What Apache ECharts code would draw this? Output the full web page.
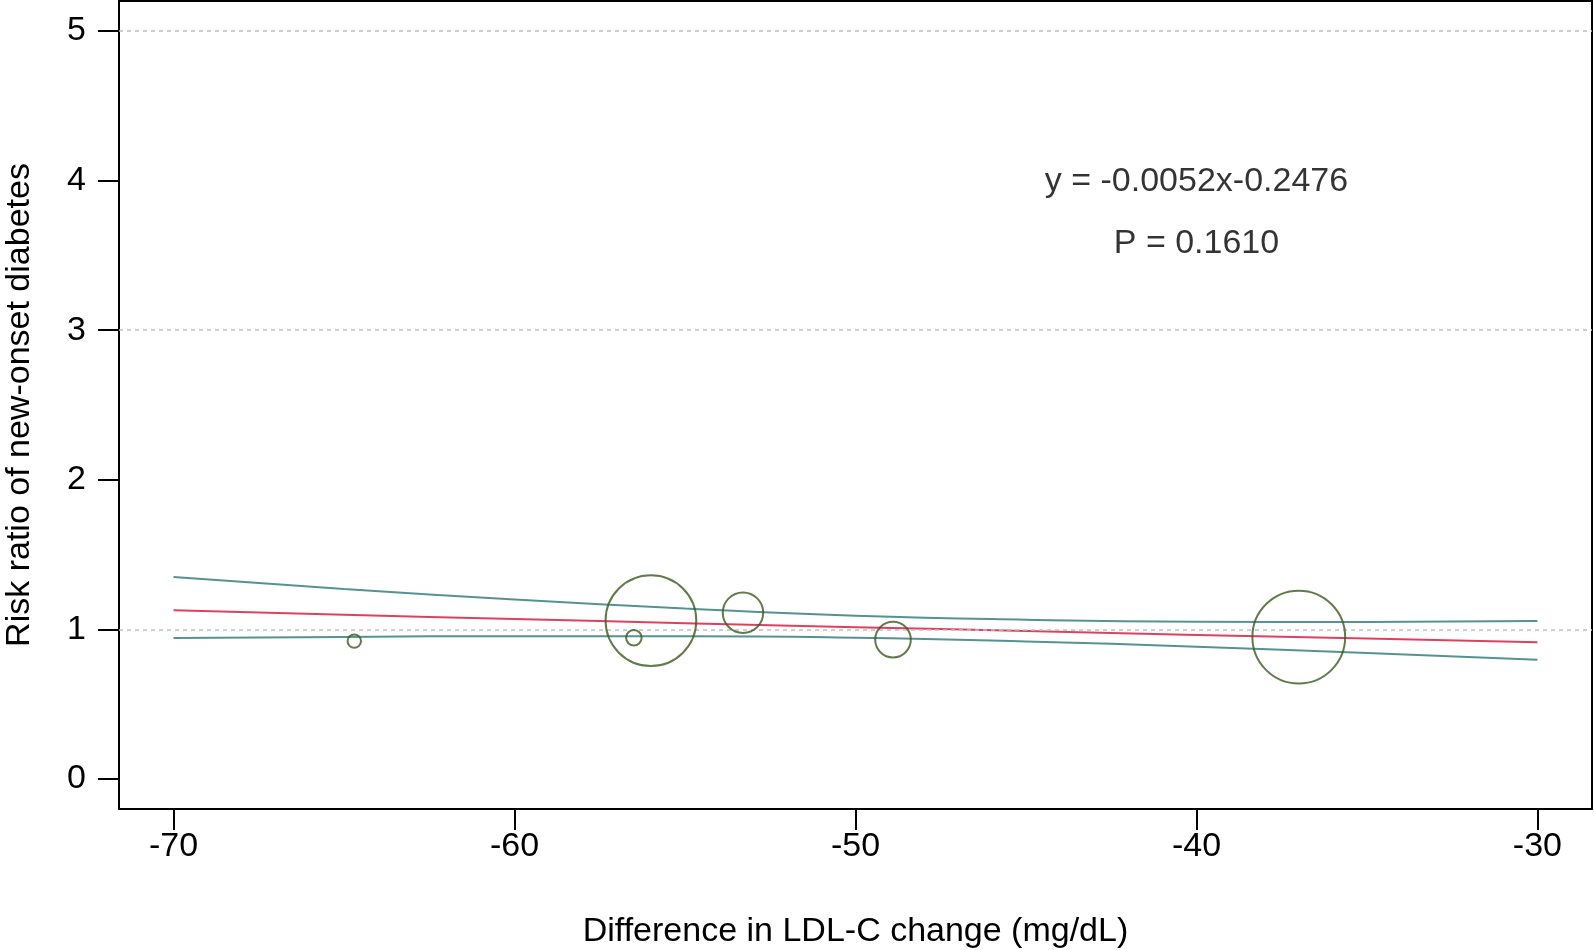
<!DOCTYPE html>
<html>
<head>
<meta charset="utf-8">
<script src="https://cdn.jsdelivr.net/npm/echarts@6/dist/echarts.min.js"></script>
<style>
html,body{margin:0;padding:0;background:#fff;}
#chart{width:1594px;height:950px;}
</style>
</head>
<body>
<div id="chart"></div>
<script>
// ---- data ----
const xTicks = [-70, -60, -50, -40, -30];
const yTicks = [0, 1, 2, 3, 4, 5];
const refLines = [1, 3, 5];

const studyX = [-64.7, -56.5, -56.0, -53.3, -48.9, -37.0];
const studyRR = [0.922, 0.945, 1.059, 1.112, 0.932, 0.949];
const studyWeight = [0.9, 1.2, 40.8, 8.1, 6.3, 42.7];

const fitX = [-70, -65, -60, -55, -50, -45, -40, -35, -30];
const fitRR = [1.128, 1.098, 1.070, 1.042, 1.015, 0.990, 0.963, 0.940, 0.915];
const upperRR = [1.351, 1.270, 1.200, 1.140, 1.092, 1.065, 1.052, 1.050, 1.057];
const lowerRR = [0.942, 0.950, 0.955, 0.955, 0.945, 0.920, 0.885, 0.843, 0.797];

const annotX = [-40, -40];
const annotY = [3.99, 3.58];
const annotText = ['y = -0.0052x-0.2476', 'P = 0.1610'];

const xTitle = 'Difference in LDL-C change (mg/dL)';
const yTitle = 'Risk ratio of new-onset diabetes';

// ---- chart ----
const FONT = '"Liberation Sans", Arial, Helvetica, sans-serif';
const FS = 34;
const chart = echarts.init(document.getElementById('chart'), null, {renderer: 'canvas'});

const pairs = (xs, ys) => xs.map((x, i) => [x, ys[i]]);

chart.setOption({
  animation: false,
  backgroundColor: '#fff',
  grid: {
    left: 119, right: 2, top: 1, bottom: 141,
    containLabel: false, outerBoundsMode: 'none',
    show: true, borderColor: '#000', borderWidth: 2, backgroundColor: 'transparent'
  },
  xAxis: {
    type: 'value', min: -71.6, max: -28.4,
    name: xTitle, nameLocation: 'middle', nameGap: 106,
    nameTextStyle: {fontFamily: FONT, fontSize: FS, color: '#000'},
    axisLine: {show: true, onZero: false, lineStyle: {color: '#000', width: 2}},
    axisTick: {show: true, inside: false, length: 21, lineStyle: {color: '#000', width: 2}, customValues: xTicks},
    axisLabel: {show: true, margin: 21, fontFamily: FONT, fontSize: FS, color: '#000', customValues: xTicks, formatter: v => String(v)},
    splitLine: {show: false}
  },
  yAxis: {
    type: 'value', min: -0.2, max: 5.2,
    name: yTitle, nameLocation: 'middle', nameGap: 82, nameRotate: 90,
    nameTextStyle: {fontFamily: FONT, fontSize: FS, color: '#000'},
    axisLine: {show: true, onZero: false, lineStyle: {color: '#000', width: 2}},
    axisTick: {show: true, inside: false, length: 21, lineStyle: {color: '#000', width: 2}, customValues: yTicks},
    axisLabel: {show: true, margin: 33, fontFamily: FONT, fontSize: FS, color: '#000', customValues: yTicks, formatter: v => String(v)},
    splitLine: {show: false}
  },
  series: [
    {
      type: 'line', data: [], silent: true, z: 1,
      markLine: {
        silent: true, symbol: 'none', label: {show: false},
        lineStyle: {color: '#BEBEBE', width: 1.5, type: [4, 4]},
        data: refLines.map(v => ({yAxis: v}))
      }
    },
    {
      type: 'line', data: pairs(fitX, upperRR), smooth: true, showSymbol: false, z: 3,
      lineStyle: {color: '#559391', width: 2}
    },
    {
      type: 'line', data: pairs(fitX, lowerRR), smooth: true, showSymbol: false, z: 3,
      lineStyle: {color: '#559391', width: 2}
    },
    {
      type: 'line', data: pairs(fitX, fitRR), smooth: true, showSymbol: false, z: 4,
      lineStyle: {color: '#E0405E', width: 2}
    },
    {
      type: 'scatter', z: 5,
      data: studyX.map((x, i) => [x, studyRR[i], studyWeight[i]]),
      symbol: 'circle',
      symbolSize: d => 14.2 * Math.sqrt(d[2]),
      itemStyle: {color: 'transparent', borderColor: '#3A5A1E', borderWidth: 2}
    },
    {
      type: 'scatter', z: 6, symbolSize: 1,
      itemStyle: {color: 'transparent'},
      data: annotX.map((x, i) => ({value: [x, annotY[i]], name: annotText[i]})),
      label: {show: true, position: 'inside', formatter: '{b}', fontFamily: FONT, fontSize: FS, color: '#000'}
    }
  ]
});
</script>
</body>
</html>
